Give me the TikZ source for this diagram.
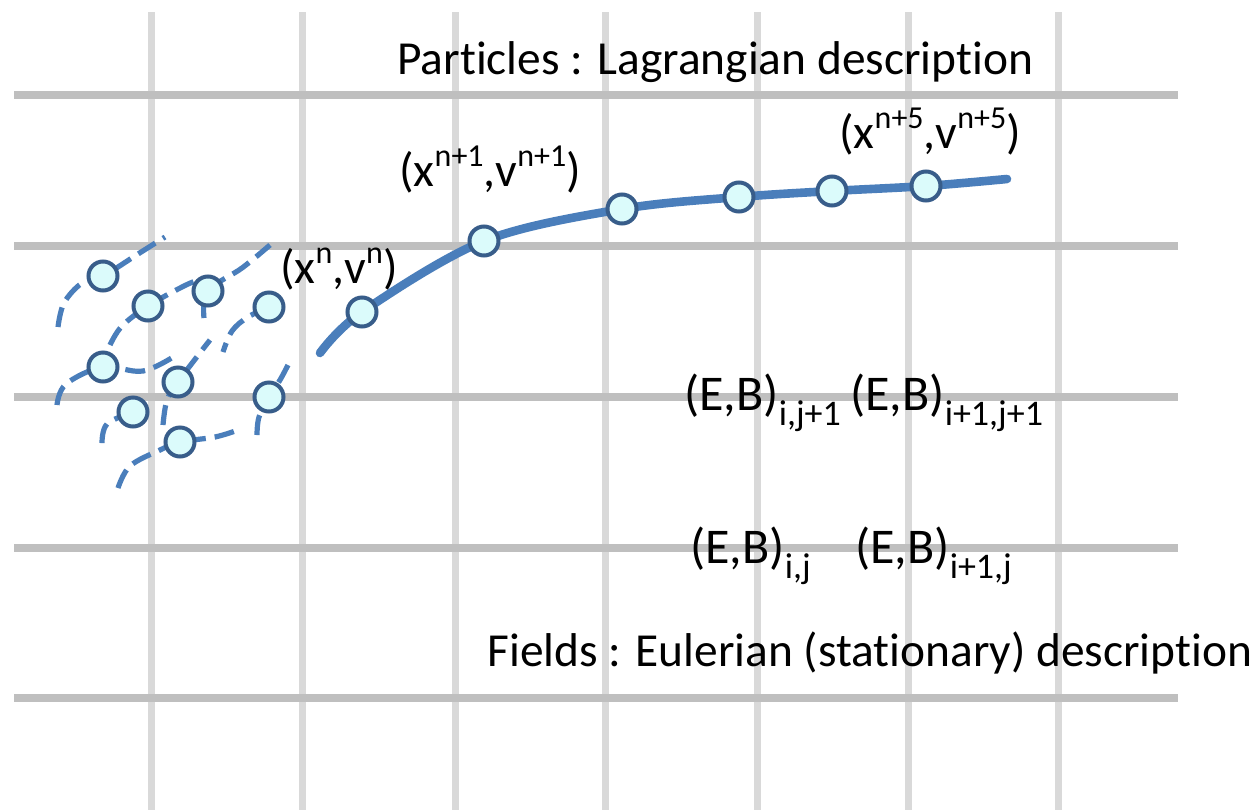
\documentclass[tikz,border=0pt]{standalone}
\usepackage{fontspec}
\setmainfont{Carlito}[RawFeature={-liga;-calt;-clig}]
\definecolor{gridh}{HTML}{BFBFBF}
\definecolor{gridv}{HTML}{D9D9D9}
\definecolor{trajc}{HTML}{4A7EBB}
\definecolor{pedge}{HTML}{385D8A}
\definecolor{pfill}{HTML}{DBFBFB}
\newcommand{\mysup}[1]{\raisebox{10pt}{\fontsize{16}{16}\selectfont #1}}
\newcommand{\mysub}[1]{\raisebox{-7.5pt}{\fontsize{18}{18}\selectfont #1}}
\begin{document}
\begin{tikzpicture}[x=0.5pt,y=-0.5pt,
  vline/.style={draw=gridv,line width=3.5pt},
  hline/.style={draw=gridh,line width=4pt},
  particle/.style={circle,draw=pedge,fill=pfill,line width=2pt,minimum size=14.5pt,inner sep=0pt},
  mainpath/.style={draw=trajc,line width=4.3pt,line cap=round},
  dashpath/.style={draw=trajc,line width=2.6pt,dash pattern=on 10pt off 4.5pt},
  title/.style={font=\fontsize{23.7}{28}\selectfont,inner sep=0pt,anchor=base west},
  lbl/.style={font=\fontsize{24}{28}\selectfont,inner sep=0pt,anchor=base west},
  eb/.style={font=\fontsize{25}{30}\selectfont,inner sep=0pt,anchor=base west}]
\useasboundingbox (0,0) rectangle (1260,810);
\fill[white] (0,0) rectangle (1260,810);
% grid
\foreach \x in {151,302,455,605,757,908,1058} \draw[vline] (\x,12) -- (\x,810);
\foreach \y in {95,246,397,548,698} \draw[hline] (14,\y) -- (1178,\y);
% particle positions
\coordinate (c1) at (103,276);
\coordinate (c2) at (148,306);
\coordinate (c3) at (208,291);
\coordinate (c4) at (269,307);
\coordinate (c5) at (103,367);
\coordinate (c6) at (178,382);
\coordinate (c7) at (133,412);
\coordinate (c8) at (269,397);
\coordinate (c9) at (180,442);
\coordinate (S) at (320,353);
\coordinate (p1) at (362,312);
\coordinate (p2) at (484,241);
\coordinate (p3) at (622,209);
\coordinate (p4) at (739,197);
\coordinate (p5) at (832,191);
\coordinate (p6) at (926,186);
\coordinate (E) at (1007,179);
% dashed trajectories
\draw[dashpath] plot[smooth,tension=0.6] coordinates {(58,327) (64,303) (82,283) (c1) (138,254) (165,237)};
\draw[dashpath] plot[smooth,tension=0.6] coordinates {(110,345) (122,326) (c2) (186,285) (205,278)};
\draw[dashpath] plot[smooth,tension=0.6] coordinates {(204,318) (c3) (242,268) (270,245)};
\draw[dashpath] plot[smooth,tension=0.6] coordinates {(c4) (248,317) (232,331) (223,352)};
\draw[dashpath] plot[smooth,tension=0.6] coordinates {(57,405) (66,384) (c5) (143,371) (178,354)};
\draw[dashpath] plot[smooth,tension=0.6] coordinates {(163,425) (167,400) (c6) (196,358) (210,340)};
\draw[dashpath] plot[smooth,tension=0.6] coordinates {(102,443) (107,424) (c7)};
\draw[dashpath] plot[smooth,tension=0.6] coordinates {(118,488) (130,466) (160,450) (c9) (215,437) (238,430)};
\draw[dashpath] plot[smooth,tension=0.6] coordinates {(257,435) (259,417) (c8) (280,380) (288,365)};
% main trajectory
\draw[mainpath] plot[smooth,tension=0.55] coordinates {(S) (p1) (p2) (p3) (p4) (p5) (p6) (E)};
% particles
\foreach \n in {c1,c2,c3,c4,c5,c6,c7,c8,c9,p1,p2,p3,p4,p5,p6}
  \node[particle] (n\n) at (\n) {};
% texts
\node[title] (tpart) at (397,74) {Particles : Lagrangian description};
\node[title] (tfield) at (487,666) {Fields : Eulerian (stationary) description};
\node[lbl] (lxn) at (280,283) {(x\mysup{n},v\mysup{n})};
\node[lbl] (lxn1) at (399,186) {(x\mysup{n+1},v\mysup{n+1})};
\node[lbl] (lxn5) at (839,148) {(x\mysup{n+5},v\mysup{n+5})};
\node[eb] (eb1) at (684,410) {(E,B)\mysub{i,j+1}};
\node[eb] (eb2) at (850,410) {(E,B)\mysub{i+1,j+1}};
\node[eb] (eb3) at (690,563) {(E,B)\mysub{i,j}};
\node[eb] (eb4) at (855,563) {(E,B)\mysub{i+1,j}};
\end{tikzpicture}
\end{document}
